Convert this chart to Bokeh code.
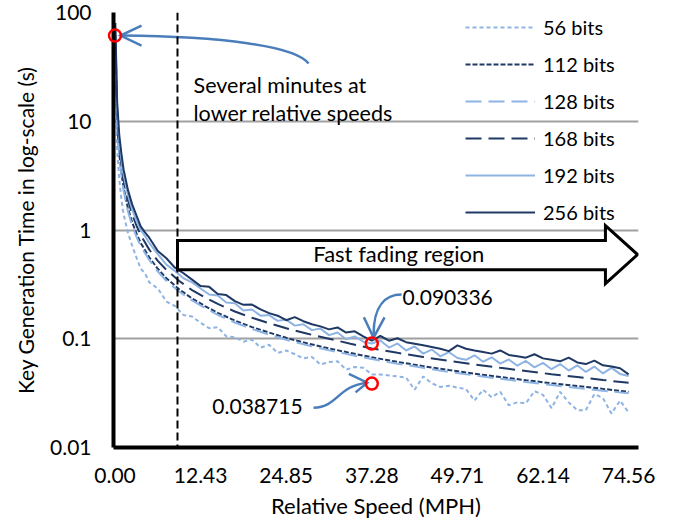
import numpy as np
from bokeh.plotting import figure
from bokeh.models import FixedTicker, Span
from bokeh.core.properties import value
from bokeh.embed import file_html
from bokeh.resources import INLINE

# ---------------- data ----------------
KMH_TO_MPH = 0.621371

# relative speeds (km/h) of the samples of the jagged series
speed_fine_kmh = [0.08, 0.5, 1, 1.5, 2, 3, 4, 5, 6, 7, 8,
                  10, 12, 14, 16, 18, 20, 22, 24, 26, 28,
                  30, 32, 34, 36, 38, 40, 42, 44, 46, 48,
                  50, 52, 54, 56, 58, 60, 62, 64, 66, 68,
                  70, 72, 74, 76, 78, 80, 82, 84, 86, 88,
                  90, 92, 94, 96, 98, 100, 102, 104, 106, 108,
                  110, 112, 114, 116, 118, 120]
# relative speeds (km/h) of the samples of the smooth series
speed_smooth_kmh = [0.08, 0.5, 1, 1.5, 2, 3, 4, 5, 6, 8,
                    10, 12, 15, 18, 21, 24, 28, 32, 36, 40,
                    45, 50, 55, 60, 66, 72, 78, 84, 90, 96,
                    102, 108, 114, 120]

t56 = [35, 5.5, 2.9, 1.9, 1.4, 0.95, 0.72, 0.56, 0.44, 0.4, 0.33,
       0.29, 0.22, 0.2, 0.165, 0.16, 0.14, 0.125, 0.128, 0.105, 0.103,
       0.094, 0.098, 0.083, 0.088, 0.074, 0.078, 0.072, 0.066, 0.068, 0.058,
       0.061, 0.062, 0.052, 0.055, 0.054, 0.047, 0.047, 0.046, 0.045, 0.044,
       0.034, 0.045, 0.039, 0.036, 0.037, 0.0355, 0.0345, 0.027, 0.034, 0.029,
       0.0325, 0.0245, 0.026, 0.0255, 0.033, 0.0305, 0.023, 0.0325, 0.026, 0.022,
       0.022, 0.031, 0.0285, 0.0205, 0.027, 0.021]
t192 = [70, 13, 6.6, 4.4, 3.2, 2.1, 1.55, 1.22, 1.0, 0.88, 0.76,
        0.6, 0.48, 0.42, 0.36, 0.33, 0.29, 0.255, 0.25, 0.215, 0.212,
        0.182, 0.186, 0.163, 0.165, 0.146, 0.15, 0.132, 0.136, 0.12, 0.124,
        0.108, 0.114, 0.099, 0.105, 0.094, 0.0905, 0.0965, 0.083, 0.0905, 0.078,
        0.085, 0.073, 0.0795, 0.069, 0.0755, 0.0665, 0.064, 0.0705, 0.0615, 0.0675,
        0.059, 0.0645, 0.0565, 0.0625, 0.0545, 0.06, 0.0525, 0.0585, 0.051, 0.057,
        0.0495, 0.0555, 0.048, 0.054, 0.0475, 0.0455]
t256 = [80, 15, 7.4, 5.0, 3.6, 2.35, 1.72, 1.36, 1.08, 0.95, 0.85,
        0.64, 0.55, 0.45, 0.40, 0.35, 0.305, 0.3, 0.258, 0.252, 0.222,
        0.205, 0.206, 0.186, 0.172, 0.163, 0.148, 0.158, 0.145, 0.136, 0.13,
        0.122, 0.127, 0.114, 0.117, 0.105, 0.096, 0.106, 0.096, 0.101, 0.093,
        0.09, 0.087, 0.084, 0.081, 0.077, 0.087, 0.081, 0.078, 0.0755, 0.073,
        0.078, 0.071, 0.069, 0.067, 0.072, 0.066, 0.064, 0.062, 0.067, 0.0605,
        0.0585, 0.063, 0.057, 0.0555, 0.0535, 0.047]
t112 = [52, 9.8, 5.0, 3.35, 2.45, 1.6, 1.18, 0.93, 0.76, 0.56,
        0.44, 0.36, 0.285, 0.235, 0.2, 0.173, 0.147, 0.128, 0.114, 0.102,
        0.0905, 0.0815, 0.074, 0.0675, 0.0612, 0.056, 0.0515, 0.0477, 0.0445, 0.0416,
        0.039, 0.0367, 0.0346, 0.0325]
t128 = [48, 9.2, 4.7, 3.15, 2.3, 1.5, 1.1, 0.87, 0.71, 0.53,
        0.415, 0.34, 0.272, 0.225, 0.192, 0.166, 0.141, 0.123, 0.109, 0.098,
        0.087, 0.0785, 0.0712, 0.065, 0.059, 0.054, 0.0496, 0.046, 0.0428, 0.04,
        0.0375, 0.0353, 0.0333, 0.0315]
t168 = [62, 11.5, 5.9, 3.95, 2.9, 1.9, 1.4, 1.1, 0.9, 0.66,
        0.52, 0.43, 0.34, 0.28, 0.24, 0.209, 0.178, 0.156, 0.139, 0.125,
        0.111, 0.1, 0.09, 0.0815, 0.0742, 0.068, 0.0625, 0.058, 0.054, 0.0505,
        0.0472, 0.0445, 0.0418, 0.0393]

SERIES_NAMES = ["56 bits", "112 bits", "128 bits", "168 bits", "192 bits", "256 bits"]

X_TICKS = [0.0, 12.43, 24.85, 37.28, 49.71, 62.14, 74.56]
X_TICK_LABELS = ["0.00", "12.43", "24.85", "37.28", "49.71", "62.14", "74.56"]
Y_TICKS = [0.01, 0.1, 1, 10, 100]
Y_TICK_LABELS = ["0.01", "0.1", "1", "10", "100"]

# highlighted samples (red circles)
HIGHLIGHT_X = [0.0, 37.28, 37.28]
HIGHLIGHT_Y = [61.4, 0.090336, 0.038715]
HIGHLIGHT_LABELS = ["0.090336", "0.038715"]

# ---------------- styling ----------------
FONT = "Lato"
LIGHT = "#8EB4E3"
DARK = "#1F3864"
ARROW_BLUE = "#4A7EBB"

x_fine = [v * KMH_TO_MPH for v in speed_fine_kmh]
x_smooth = [v * KMH_TO_MPH for v in speed_smooth_kmh]

p = figure(width=682, height=521,
           min_border_left=113, min_border_right=44,
           min_border_top=12, min_border_bottom=74,
           y_axis_type="log", x_range=(-0.22, 76.0), y_range=(0.01, 100),
           output_backend="svg", toolbar_location=None)
p.outline_line_color = None

# grid
p.xgrid.visible = False
p.ygrid.ticker = FixedTicker(ticks=Y_TICKS[1:])
p.ygrid.grid_line_color = "#A0A0A0"
p.ygrid.grid_line_width = 2

# axes
for ax in (p.xaxis, p.yaxis):
    ax.axis_line_color = "black"
    ax.axis_line_width = 4
    ax.major_tick_line_color = None
    ax.minor_tick_line_color = None
    ax.major_tick_out = 0
    ax.major_tick_in = 0
    ax.major_label_text_font = FONT
    ax.major_label_text_font_size = "21px"
    ax.major_label_text_color = "black"
    ax.axis_label_text_font = FONT
    ax.axis_label_text_font_style = "normal"
    ax.axis_label_text_color = "black"

p.xaxis.ticker = FixedTicker(ticks=X_TICKS)
p.xaxis.major_label_overrides = dict(zip(X_TICKS, X_TICK_LABELS))
p.xaxis.major_label_standoff = 20
p.xaxis.axis_label = "Relative Speed (MPH)"
p.xaxis.axis_label_text_font_size = "22px"
p.xaxis.axis_label_standoff = 6

p.yaxis.ticker = FixedTicker(ticks=Y_TICKS)
p.yaxis.major_label_overrides = dict(zip(Y_TICKS, Y_TICK_LABELS))
p.yaxis.major_label_standoff = 22
p.yaxis.axis_label = "Key Generation Time in log-scale (s)"
p.yaxis.axis_label_text_font_size = "21px"
p.yaxis.axis_label_standoff = 9

# series
styles = [
    (x_fine, t56, LIGHT, "4 3"),
    (x_smooth, t112, DARK, "5 2"),
    (x_smooth, t128, LIGHT, "16 7"),
    (x_smooth, t168, DARK, "16 7"),
    (x_fine, t192, LIGHT, "solid"),
    (x_fine, t256, DARK, "solid"),
]
for name, (xs, ys, col, dash) in zip(SERIES_NAMES, styles):
    p.line(xs, ys, line_color=col, line_width=2, line_dash=dash,
           legend_label=name)

lg = p.legend[0]
lg.location = (352, 223)
lg.background_fill_alpha = 0
lg.border_line_alpha = 0
lg.padding = 0
lg.margin = 0
lg.spacing = 13
lg.glyph_width = 70
lg.glyph_height = 24
lg.label_height = 24
lg.label_standoff = 8
lg.label_text_font = FONT
lg.label_text_font_size = "20px"
lg.label_text_color = "black"

# vertical dashed separator
VLINE_X = 9.07
p.add_layout(Span(location=VLINE_X, dimension="height", line_color="black",
                  line_width=2, line_dash="8 4"))

# block arrow "Fast fading region"
ARROW_X = [VLINE_X, 71.2, 71.2, 75.87, 71.2, 71.2, VLINE_X]
ARROW_Y = [0.799, 0.799, 1.098, 0.594, 0.321, 0.432, 0.432]
p.patch(ARROW_X, ARROW_Y, fill_color="white", line_color="black",
        line_width=3, line_join="miter")

# texts
TXT = dict(text_font=value(FONT), text_color="black", text_baseline="alphabetic")
p.text(x=[11.4, 11.4], y=[21.6, 12.0],
       text=["Several minutes at", "lower relative speeds"],
       text_align="left", text_font_size="21.5px", **TXT)
p.text(x=[41.2], y=[0.609], text=["Fast fading region"],
       text_align="center", text_font_size="22px", **TXT)
p.text(x=[41.75], y=[0.242], text=[HIGHLIGHT_LABELS[0]],
       text_align="left", text_font_size="21px", **TXT)
p.text(x=[27.23], y=[0.0236], text=[HIGHLIGHT_LABELS[1]],
       text_align="right", text_font_size="21px", **TXT)

# curved callout arrows
p.bezier(x0=[28.1, 41.6, 28.82], y0=[33.9, 0.2546, 0.02323],
         cx0=[26.2, 39.28, 32.45], cy0=[49.7, 0.2546, 0.02372],
         cx1=[15.3, 37.54, 32.16], cy1=[60.1, 0.2016, 0.03625],
         x1=[0.94, 37.54, 36.52], y1=[61.4, 0.1091, 0.03946],
         line_color=ARROW_BLUE, line_width=2.5)
p.multi_line(xs=[[3.85, 0.8, 3.85], [36.13, 37.54, 39.13], [33.95, 36.62, 34.92]],
             ys=[[75.9, 61.4, 49.7], [0.1574, 0.1023, 0.1574], [0.04745, 0.03946, 0.03212]],
             line_color=ARROW_BLUE, line_width=2.5, line_join="miter")

# red circles on highlighted points
p.scatter(HIGHLIGHT_X, HIGHLIGHT_Y, marker="circle", size=12,
          line_color="red", line_width=2.5, fill_alpha=0, level="overlay")

open("out.html", "w").write(file_html(p, INLINE))
